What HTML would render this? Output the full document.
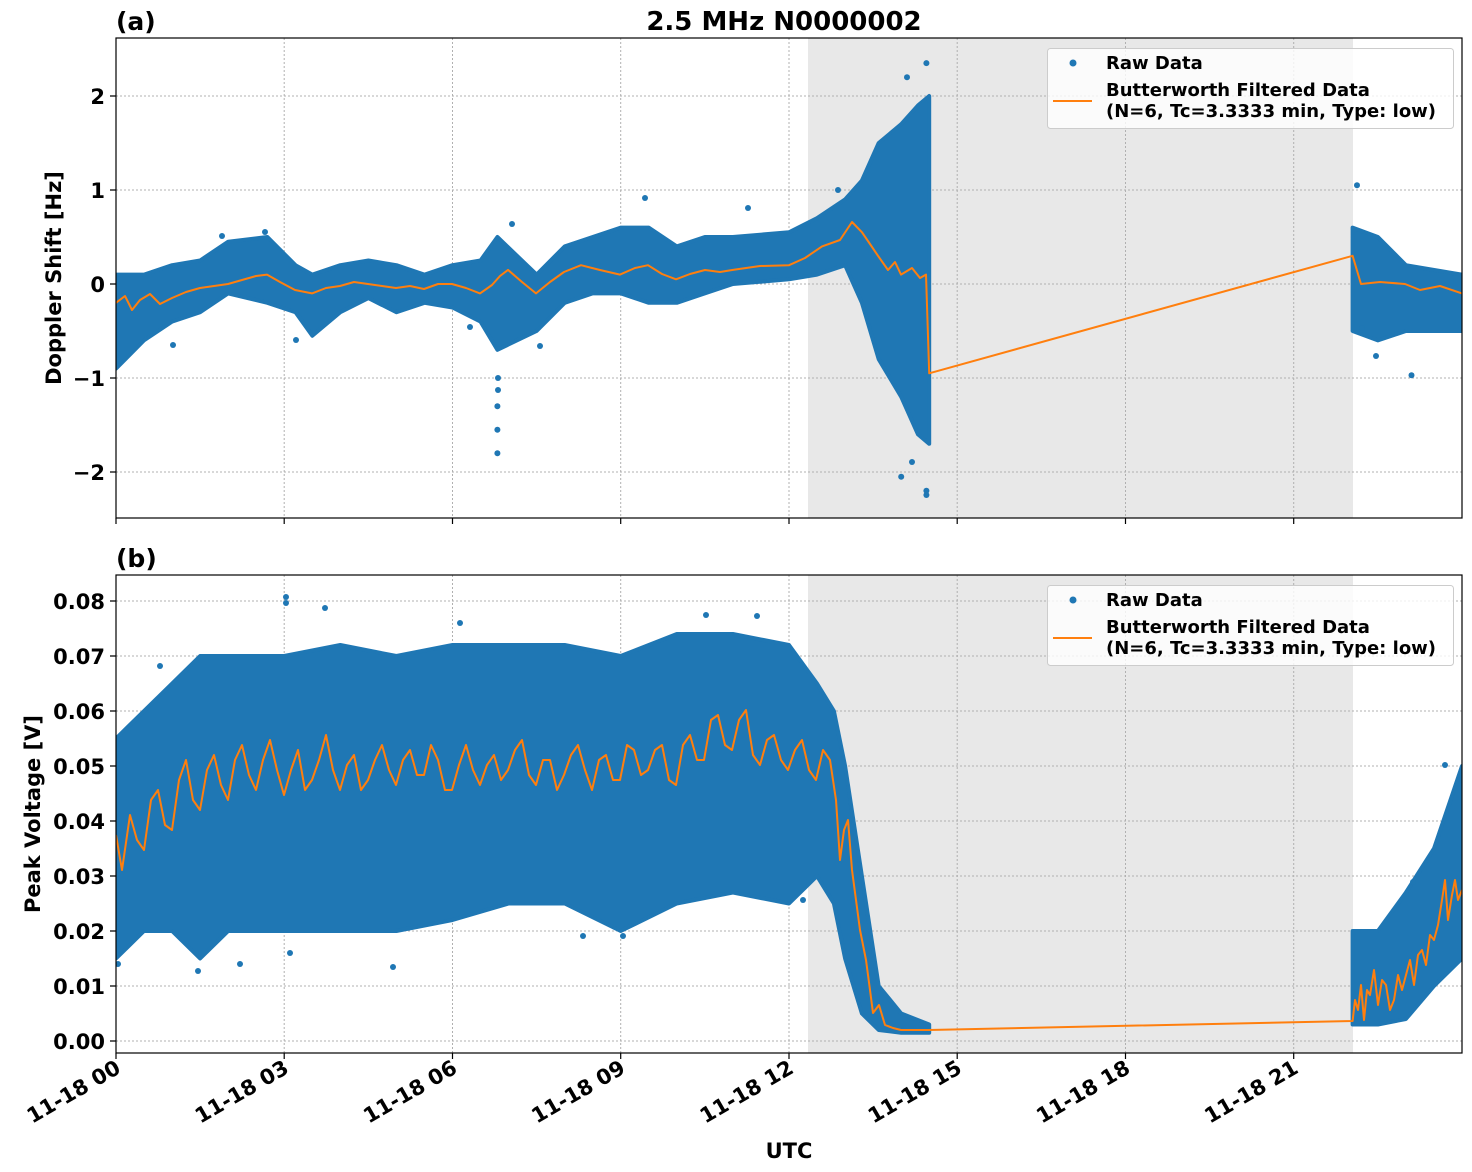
<!DOCTYPE html>
<html><head><meta charset="utf-8"><style>
html,body{margin:0;padding:0;background:#fff;}
svg{display:block;font-family:"DejaVu Sans","Liberation Sans",sans-serif;font-weight:bold;}
</style></head><body>
<svg width="1472" height="1172" viewBox="0 0 1472 1172" xmlns="http://www.w3.org/2000/svg">
<defs>
<clipPath id="c1"><rect x="116" y="38" width="1346" height="480"/></clipPath>
<clipPath id="c2"><rect x="116" y="575" width="1346" height="478"/></clipPath>
</defs>
<rect x="808" y="38" width="545" height="480" fill="#e8e8e8"/>
<rect x="808" y="575" width="545" height="478" fill="#e8e8e8"/>
<g stroke="#b0b0b0" stroke-width="1" stroke-dasharray="2,2">
<path d="M116,38V518M284.2,38V518M452.5,38V518M620.7,38V518M789,38V518M957.2,38V518M1125.5,38V518M1293.7,38V518"/>
<path d="M116,575V1053M284.2,575V1053M452.5,575V1053M620.7,575V1053M789,575V1053M957.2,575V1053M1125.5,575V1053M1293.7,575V1053"/>
<path d="M116,96H1462M116,190H1462M116,284H1462M116,378H1462M116,472H1462"/>
<path d="M116,601H1462M116,656H1462M116,711H1462M116,766H1462M116,821H1462M116,876H1462M116,931H1462M116,986H1462M116,1041H1462"/>
</g>
<g clip-path="url(#c1)">
<g fill="#1f77b4" stroke="#1f77b4" stroke-width="4" stroke-linejoin="round">
<polygon points="116,274.6 144,274.6 172.1,265.2 200.1,260.5 228.2,241.7 267.4,237 295.5,265.2 312.3,274.6 340.3,265.2 368.4,260.5 396.4,265.2 424.5,274.6 452.5,265.2 480.5,260.5 497.4,237 536.6,274.6 564.7,246.4 592.7,237 620.7,227.6 648.8,227.6 676.8,246.4 704.9,237 732.9,237 789,232.3 817,218.2 845.1,199.4 861.9,180.6 878.7,143 901.2,124.2 918,105.4 929.2,96 929.2,443.8 918,434.4 901.2,396.8 878.7,359.2 861.9,302.8 845.1,265.2 817,274.6 789,279.3 732.9,284 704.9,293.4 676.8,302.8 648.8,302.8 620.7,293.4 592.7,293.4 564.7,302.8 536.6,331 497.4,349.8 480.5,321.6 452.5,307.5 424.5,302.8 396.4,312.2 368.4,298.1 340.3,312.2 312.3,335.7 295.5,312.2 267.4,302.8 228.2,293.4 200.1,312.2 172.1,321.6 144,340.4 116,368.6"/>
<polygon points="1352.6,227.6 1377.9,237 1405.9,265.2 1462,274.6 1462,331 1405.9,331 1377.9,340.4 1352.6,331"/>
</g>
<g fill="#1f77b4">
<circle cx="497.4" cy="453.2" r="3"/><circle cx="497.4" cy="429.7" r="3"/><circle cx="497.4" cy="406.2" r="3"/><circle cx="498" cy="378" r="3"/><circle cx="498" cy="390" r="3"/>
<circle cx="901.2" cy="476.7" r="3"/><circle cx="926.4" cy="490.8" r="3"/><circle cx="926.4" cy="495" r="3"/><circle cx="926.4" cy="63.1" r="3"/><circle cx="907" cy="77.2" r="3"/><circle cx="912" cy="462" r="3"/>
<circle cx="1357" cy="185.3" r="3"/><circle cx="1411.5" cy="375.3" r="3"/><circle cx="1362" cy="328" r="3"/><circle cx="1376" cy="356" r="3"/>
<circle cx="222" cy="236" r="3"/><circle cx="265" cy="232" r="3"/><circle cx="512" cy="224" r="3"/><circle cx="540" cy="346" r="3"/><circle cx="645" cy="198" r="3"/><circle cx="748" cy="208" r="3"/>
<circle cx="296" cy="340" r="3"/><circle cx="173" cy="345" r="3"/><circle cx="838" cy="190" r="3"/><circle cx="470" cy="327" r="3"/>
</g>
<polyline fill="none" stroke="#ff7f0e" stroke-width="2" stroke-linejoin="round" points="116,302.8 125,296 132,310 140,300 150,294 160,304 172,298 186,292 200,288 214,286 228,284 242,280 256,276 267,274.6 280,282 295,290 312,293.4 326,288 340,286 354,282 368,284 382,286 396,288 410,286 424,289 438,284 452,284 466,288 480,293.4 492,285 500,276 508,269.9 522,282 536,293.4 550,282 564,272 581,265.2 600,270 620,274.6 635,268 648,265.2 662,274 676,279.3 690,274 705,270 720,272 733,269.9 760,266 789,265.2 805,258 822,246.4 840,240 852,222 862,232.3 870,244 878,255.8 888,270 895,262 901,274.6 912,268 920,278 926,274.6 929.2,373.3 1352.6,255.8 1361,284 1380,282 1405,284 1420,290 1440,286 1462,293.4"/>
</g>
<g clip-path="url(#c2)">
<g fill="#1f77b4" stroke="#1f77b4" stroke-width="4" stroke-linejoin="round">
<polygon points="116,738.5 144,711 172.1,683.5 200.1,656 228.2,656 284.2,656 340.3,645 396.4,656 452.5,645 508.6,645 564.7,645 620.7,656 676.8,634 732.9,634 789,645 817,683.5 833.9,711 845.1,766 861.9,876 878.7,986 901.2,1013.5 929.2,1024.5 929.2,1032.8 901.2,1032.8 878.7,1030 861.9,1013.5 845.1,958.5 833.9,903.5 817,876 789,903.5 732.9,892.5 676.8,903.5 620.7,931 564.7,903.5 508.6,903.5 452.5,920 396.4,931 340.3,931 284.2,931 228.2,931 200.1,958.5 172.1,931 144,931 116,958.5"/>
<polygon points="1352.6,931 1377.9,931 1405.9,892.5 1434,848.5 1462,766 1462,958.5 1434,986 1405.9,1019 1377.9,1024.5 1352.6,1024.5"/>
</g>
<g fill="#1f77b4">
<circle cx="286" cy="597" r="3"/><circle cx="286" cy="603" r="3"/><circle cx="325" cy="608" r="3"/><circle cx="460" cy="623" r="3"/><circle cx="706" cy="615" r="3"/><circle cx="757" cy="616" r="3"/><circle cx="160" cy="666" r="3"/><circle cx="198" cy="971" r="3"/><circle cx="240" cy="964" r="3"/><circle cx="393" cy="967" r="3"/><circle cx="583" cy="936" r="3"/><circle cx="623" cy="936" r="3"/><circle cx="118" cy="964" r="3"/><circle cx="290" cy="953" r="3"/><circle cx="803" cy="900" r="3"/><circle cx="1413" cy="882" r="3"/><circle cx="1445" cy="765" r="3"/><circle cx="1462" cy="780" r="3"/>
</g>
<polyline fill="none" stroke="#ff7f0e" stroke-width="2" stroke-linejoin="round" points="116,835 122,870 130,815 137,840 144,850 151,800 158,790 165,825 172,830 179,780 186,760 193,800 200,810 207,770 214,755 221,785 228,800 235,760 242,745 249,775 256,790 263,760 270,740 277,770 284,795 291,770 298,750 305,790 312,780 319,760 326,735 333,770 340,790 347,765 354,755 361,790 368,780 375,760 382,745 389,770 396,785 403,760 410,750 417,775 424,775 431,745 438,760 445,790 452,790 459,765 466,745 473,770 480,785 487,765 494,755 501,780 508,770 515,750 522,740 529,775 536,785 543,760 550,760 557,790 564,775 571,755 578,745 585,770 592,790 599,760 606,755 613,780 620,780 627,745 634,750 641,775 648,770 655,750 662,745 669,780 676,785 683,745 690,735 697,760 704,760 711,720 718,715 725,745 732,750 739,720 746,710 753,755 760,765 767,740 774,735 781,760 788,770 795,750 802,740 809,770 816,780 823,750 830,760 836,800 840,860 844,830 848,820 852,870 856,900 860,930 866,960 870,990 873,1013 879,1005 885,1025 893,1028 901,1030 929,1030 1352.6,1021 1355,1000 1358,1010 1361,985 1364,1020 1367,990 1370,995 1374,970 1378,1005 1382,980 1386,985 1390,1010 1394,1000 1398,975 1402,990 1406,975 1410,960 1414,985 1418,955 1422,950 1426,965 1430,935 1434,940 1438,925 1442,900 1445,880 1448,920 1452,895 1455,880 1458,900 1462,890"/>
</g>
<rect x="116" y="38" width="1346" height="480" fill="none" stroke="#000" stroke-width="1.2"/>
<rect x="116" y="575" width="1346" height="478" fill="none" stroke="#000" stroke-width="1.2"/>
<g stroke="#000" stroke-width="1.2">
<path d="M116,518v6M284.2,518v6M452.5,518v6M620.7,518v6M789,518v6M957.2,518v6M1125.5,518v6M1293.7,518v6"/>
<path d="M116,1053v6M284.2,1053v6M452.5,1053v6M620.7,1053v6M789,1053v6M957.2,1053v6M1125.5,1053v6M1293.7,1053v6"/>
<path d="M110,96h6M110,190h6M110,284h6M110,378h6M110,472h6"/>
<path d="M110,601h6M110,656h6M110,711h6M110,766h6M110,821h6M110,876h6M110,931h6M110,986h6M110,1041h6"/>
</g>
<g font-size="21" fill="#000" text-anchor="end">
<text x="105" y="104">2</text><text x="105" y="198">1</text><text x="105" y="292">0</text><text x="105" y="386">−1</text><text x="105" y="480">−2</text>
<text x="105" y="609">0.08</text><text x="105" y="664">0.07</text><text x="105" y="719">0.06</text><text x="105" y="774">0.05</text><text x="105" y="829">0.04</text><text x="105" y="884">0.03</text><text x="105" y="939">0.02</text><text x="105" y="994">0.01</text><text x="105" y="1049">0.00</text>
<text transform="translate(122,1072) rotate(-30)">11-18 00</text>
<text transform="translate(290.2,1072) rotate(-30)">11-18 03</text>
<text transform="translate(458.5,1072) rotate(-30)">11-18 06</text>
<text transform="translate(626.7,1072) rotate(-30)">11-18 09</text>
<text transform="translate(795,1072) rotate(-30)">11-18 12</text>
<text transform="translate(963.2,1072) rotate(-30)">11-18 15</text>
<text transform="translate(1131.5,1072) rotate(-30)">11-18 18</text>
<text transform="translate(1299.7,1072) rotate(-30)">11-18 21</text>
</g>
<text x="784" y="30" font-size="26" text-anchor="middle">2.5 MHz N0000002</text>
<text x="116" y="30" font-size="25">(a)</text>
<text x="116" y="567" font-size="25">(b)</text>
<text x="789" y="1158" font-size="21" text-anchor="middle">UTC</text>
<text transform="translate(61,278) rotate(-90)" font-size="21" text-anchor="middle">Doppler Shift [Hz]</text>
<text transform="translate(40,814) rotate(-90)" font-size="21" text-anchor="middle">Peak Voltage [V]</text>
<g font-size="18">
<rect x="1047.5" y="48.5" width="406" height="80" rx="3" fill="#fff" fill-opacity="0.8" stroke="#ccc"/>
<circle cx="1073" cy="63" r="3.5" fill="#1f77b4"/>
<text x="1106" y="69">Raw Data</text>
<line x1="1053" y1="101" x2="1092" y2="101" stroke="#ff7f0e" stroke-width="2"/>
<text x="1106" y="96">Butterworth Filtered Data</text>
<text x="1106" y="117">(N=6, Tc=3.3333 min, Type: low)</text>
<rect x="1047.5" y="585.5" width="406" height="80" rx="3" fill="#fff" fill-opacity="0.8" stroke="#ccc"/>
<circle cx="1073" cy="600" r="3.5" fill="#1f77b4"/>
<text x="1106" y="606">Raw Data</text>
<line x1="1053" y1="638" x2="1092" y2="638" stroke="#ff7f0e" stroke-width="2"/>
<text x="1106" y="633">Butterworth Filtered Data</text>
<text x="1106" y="654">(N=6, Tc=3.3333 min, Type: low)</text>
</g>
</svg>
</body></html>
